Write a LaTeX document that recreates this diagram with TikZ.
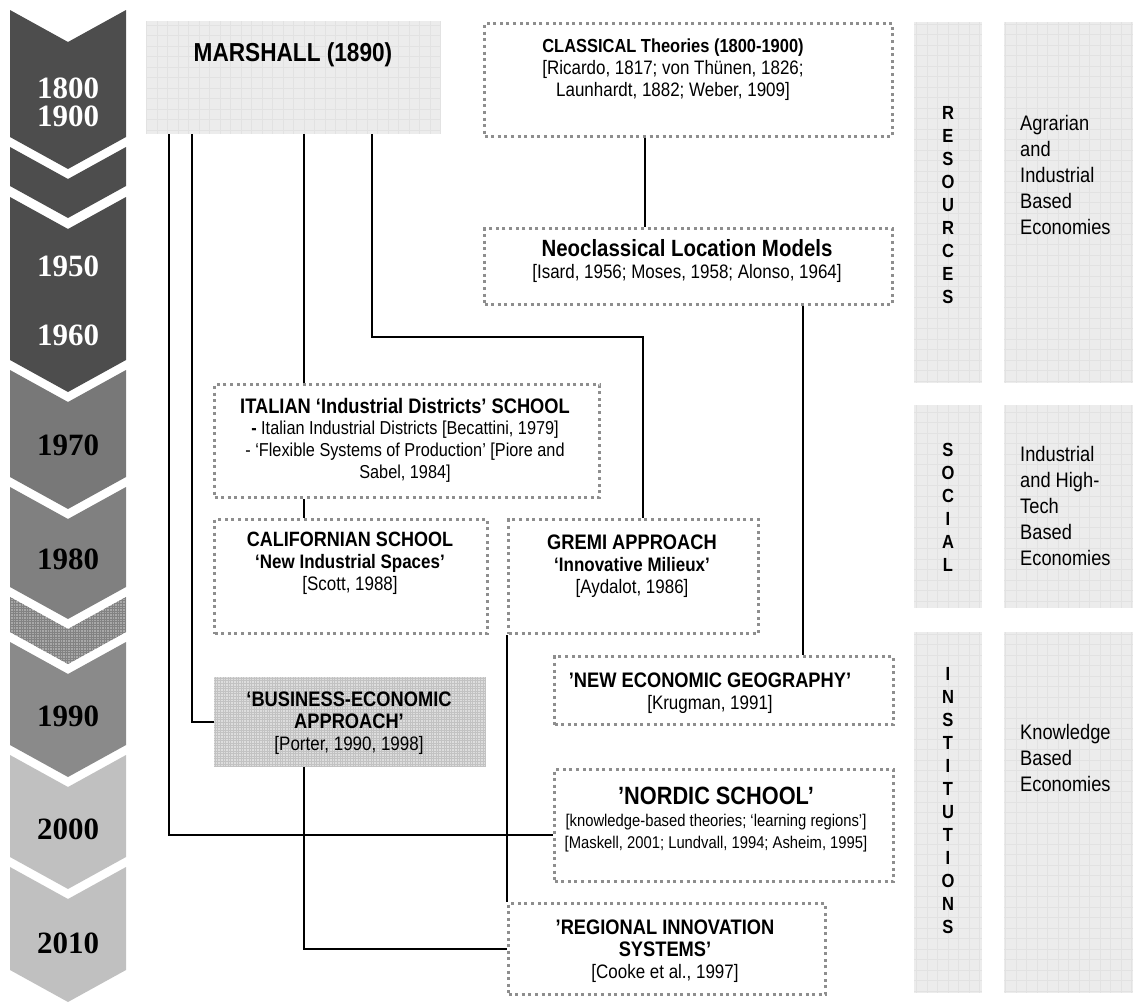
\documentclass[tikz,border=0pt]{standalone}
\usepackage{fontspec}
\setmainfont{Liberation Sans}[FakeStretch=0.87]
\newfontfamily\yearfont{Liberation Serif}
\usepackage{xcolor}
\usepackage{tikz}
\usetikzlibrary{positioning}
\definecolor{darkstep}{HTML}{4D4D4D}
\definecolor{midstepA}{HTML}{787878}
\definecolor{midstepB}{HTML}{808080}
\definecolor{midstepC}{HTML}{8A8A8A}
\definecolor{hatchstep}{HTML}{A8A8A8}
\definecolor{lightstep}{HTML}{C0C0C0}
\definecolor{panelgray}{HTML}{ECECEC}
\definecolor{panelgrid}{HTML}{E2E2E2}
\definecolor{portergray}{HTML}{DDDDDD}
\definecolor{portergrid}{HTML}{C2C2C2}
\definecolor{dotgray}{HTML}{8E8E8E}

\begin{document}
\begin{tikzpicture}[
        x=1pt, y=-1pt,
        dotbox/.style={
            rectangle,
            draw=dotgray,
            line width=3pt,
            dash pattern=on 3pt off 3.6pt,
            inner sep=0pt,
            anchor=north west
        },
        panel/.style={
            rectangle,
            fill=panelgray,
            inner sep=0pt,
            anchor=north west,
            path picture={
                \draw[panelgrid, line width=0.8pt]
                    (path picture bounding box.south west) grid[step=10.5pt]
                    (path picture bounding box.north east);
            }
        },
        porterbox/.style={
            rectangle,
            fill=portergray,
            inner sep=0pt,
            anchor=north west,
            path picture={
                \draw[portergrid, line width=0.5pt]
                    (path picture bounding box.south west) grid[step=2.6pt]
                    (path picture bounding box.north east);
            }
        },
        link/.style={
            draw=black,
            line width=2pt
        },
        txt/.style={
            align=center,
            inner sep=0pt,
            font=\fontsize{19.5}{22}\selectfont
        },
        sidetxt/.style={
            align=left,
            anchor=west,
            inner sep=0pt,
            font=\fontsize{21}{26}\selectfont
        },
        letters/.style={
            align=center,
            inner sep=0pt,
            font=\bfseries\fontsize{19}{23}\selectfont
        },
        year/.style={
            align=center,
            inner sep=0pt,
            font=\yearfont\bfseries\fontsize{31}{28}\selectfont
        }
    ]
        \useasboundingbox (0,0) rectangle (1133,1004);

        % time arrows
        \fill[darkstep] (10,10) -- (68,42) -- (126,10) -- (126,137) -- (68,169) -- (10,137) -- cycle;
        \fill[darkstep] (10,147) -- (68,179) -- (126,147) -- (126,186) -- (68,218) -- (10,186) -- cycle;
        \fill[darkstep] (10,197) -- (68,229) -- (126,197) -- (126,360) -- (68,392) -- (10,360) -- cycle;
        \fill[midstepA] (10,370) -- (68,402) -- (126,370) -- (126,477) -- (68,509) -- (10,477) -- cycle;
        \fill[midstepB] (10,487) -- (68,519) -- (126,487) -- (126,587) -- (68,619) -- (10,587) -- cycle;
        \fill[hatchstep, path picture={
                \draw[darkstep!70, line width=0.5pt]
                    (path picture bounding box.south west) grid[step=2.6pt]
                    (path picture bounding box.north east);}]
            (10,597) -- (68,629) -- (126,597) -- (126,632) -- (68,664) -- (10,632) -- cycle;
        \fill[midstepC] (10,642) -- (68,674) -- (126,642) -- (126,745) -- (68,777) -- (10,745) -- cycle;
        \fill[lightstep] (10,755) -- (68,787) -- (126,755) -- (126,857) -- (68,889) -- (10,857) -- cycle;
        \fill[lightstep] (10,867) -- (68,899) -- (126,867) -- (126,970) -- (68,1002) -- (10,970) -- cycle;

        \node[year, text=white] (y1800) at (68,102) {1800\\1900};
        \node[year, text=white] (y1950) at (68,266) {1950};
        \node[year, text=white] (y1960) at (68,335) {1960};
        \node[year] (y1970) at (68,445) {1970};
        \node[year] (y1980) at (68,559) {1980};
        \node[year] (y1990) at (68,716) {1990};
        \node[year] (y2000) at (68,829) {2000};
        \node[year] (y2010) at (68,943) {2010};

        % schools
        \node[panel, minimum width=295, minimum height=113] (marshall) at (146,21) {};
        \node[dotbox, minimum width=408, minimum height=113] (classical) at (483,22) {};
        \node[dotbox, minimum width=408, minimum height=76] (neoclassical) at (483,227) {};
        \node[dotbox, minimum width=385, minimum height=113] (italian) at (213,383) {};
        \node[dotbox, minimum width=273, minimum height=114] (californian) at (213,518) {};
        \node[dotbox, minimum width=250, minimum height=114] (gremi) at (507,518) {};
        \node[dotbox, minimum width=339, minimum height=68] (neg) at (553,655) {};
        \node[porterbox, minimum width=272, minimum height=90] (business) at (214,677) {};
        \node[dotbox, minimum width=339, minimum height=112] (nordic) at (553,768) {};
        \node[dotbox, minimum width=317, minimum height=91] (regional) at (507,902) {};

        \node[txt, font=\bfseries\fontsize{26}{26}\selectfont] (marshallText) at (293,55) {MARSHALL (1890)};
        \node[txt] (classicalText) at (673,70) {
            {\bfseries\fontsize{18.9}{21}\selectfont CLASSICAL Theories (1800-1900)}\\{}%
            [Ricardo, 1817; von Thünen, 1826;\\
            Launhardt, 1882; Weber, 1909]
        };
        \node[txt] (neoText) at (687,261) {
            {\bfseries\fontsize{23.5}{24}\selectfont Neoclassical Location Models}\\{}%
            [Isard, 1956; Moses, 1958; Alonso, 1964]
        };
        \node[txt, font=\fontsize{18.7}{21.7}\selectfont] (italianText) at (405,440) {
            {\bfseries\fontsize{21}{22}\selectfont ITALIAN ‘Industrial Districts’ SCHOOL}\\
            {\bfseries -} Italian Industrial Districts [Becattini, 1979]\\
            - ‘Flexible Systems of Production’ [Piore and\\
            Sabel, 1984]
        };
        \node[txt] (californianText) at (350,563) {
            {\bfseries\fontsize{20.7}{22}\selectfont CALIFORNIAN SCHOOL}\\
            {\bfseries ‘New Industrial Spaces’}\\{}%
            [Scott, 1988]
        };
        \node[txt] (gremiText) at (632,566) {
            {\bfseries\fontsize{21}{22}\selectfont GREMI APPROACH}\\
            {\bfseries ‘Innovative Milieux’}\\{}%
            [Aydalot, 1986]
        };
        \node[txt] (negText) at (710,693) {
            {\bfseries\fontsize{21}{22}\selectfont ’NEW ECONOMIC GEOGRAPHY’}\\{}%
            [Krugman, 1991]
        };
        \node[txt] (businessText) at (349,723) {
            {\bfseries\fontsize{21}{25}\selectfont ‘BUSINESS-ECONOMIC}\\
            {\bfseries\fontsize{21}{25}\selectfont APPROACH’}\\{}%
            [Porter, 1990, 1998]
        };
        \node[txt, font=\fontsize{17}{22}\selectfont] (nordicText) at (716,820) {
            {\bfseries\fontsize{25}{24}\selectfont ’NORDIC SCHOOL’}\\{}%
            [knowledge-based theories; ‘learning regions’]\\{}%
            [Maskell, 2001; Lundvall, 1994; Asheim, 1995]
        };
        \node[txt] (regionalText) at (665,951) {
            {\bfseries\fontsize{21}{25}\selectfont ’REGIONAL INNOVATION}\\
            {\bfseries\fontsize{21}{25}\selectfont SYSTEMS’}\\{}%
            [Cooke et al., 1997]
        };

        % links
        \coordinate (toItalian) at ([xshift=158pt]marshall.south west);
        \coordinate (toGremi) at ([xshift=226pt]marshall.south west);
        \coordinate (gremiBend) at (643,337);
        \coordinate (toNeg) at ([xshift=114pt]neoclassical.south);
        \draw[link] ([xshift=23pt]marshall.south west) |- ([yshift=-9pt]nordic.west);
        \draw[link] ([xshift=46pt]marshall.south west) |- (business.west);
        \draw[link] (toItalian) -- (toItalian |- italian.north);
        \draw[link] (toGremi) |- (gremiBend) -- (gremiBend |- gremi.north);
        \draw[link] ([xshift=-44pt]classical.south) -- ([xshift=-44pt]neoclassical.north);
        \draw[link] (toNeg) -- (toNeg |- neg.north);
        \draw[link] (toItalian |- italian.south) -- (toItalian |- californian.north);
        \draw[link] (gremi.south west) -- (regional.north west);
        \draw[link] ([xshift=-46pt]business.south) |- (regional.west);

        % eras
        \node[panel, minimum width=68, minimum height=361] (resources) at (914,22) {};
        \node[panel, minimum width=129, minimum height=361] (agrarian) at (1004,22) {};
        \node[panel, minimum width=68, minimum height=203] (social) at (914,405) {};
        \node[panel, minimum width=129, minimum height=203] (hightech) at (1004,405) {};
        \node[panel, minimum width=68, minimum height=361] (institutions) at (914,632) {};
        \node[panel, minimum width=129, minimum height=361] (knowledge) at (1004,632) {};

        \node[letters] (resourcesText) at (948,205) {R\\E\\S\\O\\U\\R\\C\\E\\S};
        \node[letters] (socialText) at (948,507) {S\\O\\C\\I\\A\\L};
        \node[letters] (institutionsText) at (948,801) {I\\N\\S\\T\\I\\T\\U\\T\\I\\O\\N\\S};
        \node[sidetxt] (agrarianText) at (1020,175) {Agrarian\\and\\Industrial\\Based\\Economies};
        \node[sidetxt] (hightechText) at (1020,506) {Industrial\\and High-\\Tech\\Based\\Economies};
        \node[sidetxt] (knowledgeText) at (1020,758) {Knowledge\\Based\\Economies};
    \end{tikzpicture}
\end{document}
